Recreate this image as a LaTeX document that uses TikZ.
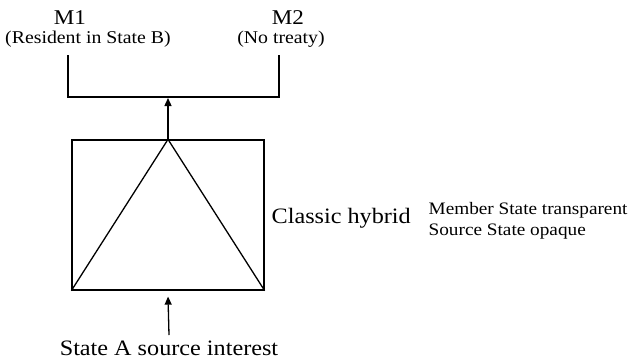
\documentclass[tikz,border=0pt]{standalone}
\usepackage{fontspec}
\setmainfont[FakeStretch=1.1]{Liberation Serif}
\usetikzlibrary{positioning,calc,arrows.meta}

\begin{document}
\begin{tikzpicture}[x=1pt, y=-1pt, line width=1.3pt,
    big/.style={font=\fontsize{22}{24}\selectfont, inner sep=0pt, anchor=base},
    head/.style={font=\fontsize{21}{24}\selectfont, inner sep=0pt, anchor=base},
    small/.style={font=\fontsize{18}{21}\selectfont, inner sep=0pt, anchor=base},
    note/.style={font=\fontsize{17.5}{21}\selectfont, inner sep=0pt, anchor=base west},
    up/.style={-{Triangle[length=8pt, width=7pt]}}]
  \useasboundingbox (0,0) rectangle (628,362);

  % Members on top
  \node[head] (m1) at (70,24) {M1};
  \node[small] (m1sub) at (88,43) {(Resident in State B)};
  \node[head] (m2) at (288,24) {M2};
  \node[small] (m2sub) at (281,43) {(No treaty)};

  % Hybrid entity box with triangle
  \node[draw, minimum width=192pt, minimum height=150pt, inner sep=0pt] (hybrid) at (168,215) {};
  \draw (hybrid.south west) -- (hybrid.north) -- (hybrid.south east);
  \node[big, anchor=base west] (kind) at (271,223) {Classic hybrid};
  \node[note] (note1) at (428,214) {Member State transparent};
  \node[note] (note2) at (428,235.5) {Source State opaque};

  % Bracket joining the members
  \coordinate (join) at (168,97);
  \draw ($(m1.base)+(-2,31)$) |- (join) -| ($(m2.base)+(-9,31)$);
  \draw[up, shorten >=1pt] (hybrid.north) -- (join);

  % Source income
  \node[big] (src) at (169,355) {State A source interest};
  \draw[up] ($(src.base)+(0,-20)$) -- ($(hybrid.south)+(0,6)$);
\end{tikzpicture}
\end{document}
